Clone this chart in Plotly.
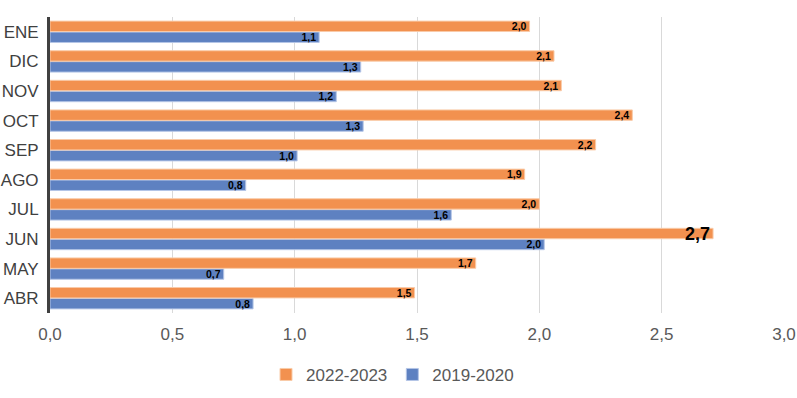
import plotly.graph_objects as go

months = ["ABR", "MAY", "JUN", "JUL", "AGO", "SEP", "OCT", "NOV", "DIC", "ENE"]
s2022 = [1.49, 1.74, 2.71, 2.00, 1.94, 2.23, 2.38, 2.09, 2.06, 1.96]
s2019 = [0.83, 0.71, 2.02, 1.64, 0.80, 1.01, 1.28, 1.17, 1.27, 1.10]
x_ticks = [0, 0.5, 1.0, 1.5, 2.0, 2.5, 3.0]

orange = "#F2914F"
blue = "#5E81C1"

size2022 = [18 if v == max(s2022) else 10.5 for v in s2022]

fig = go.Figure()
fig.add_trace(go.Bar(
    y=months, x=s2019, orientation="h", name="2019-2020",
    marker=dict(color=blue, line=dict(color="#B4C5E6", width=1)),
    texttemplate="<b>%{x:.1f}</b>", textposition="inside", insidetextanchor="end",
    textfont=dict(color="black", size=10.5, family="Arial"),
    constraintext="none", legendrank=2,
))
fig.add_trace(go.Bar(
    y=months, x=s2022, orientation="h", name="2022-2023",
    marker=dict(color=orange, line=dict(color="#F9CBA8", width=1)),
    texttemplate="<b>%{x:.1f}</b>", textposition="inside", insidetextanchor="end",
    textfont=dict(color="black", size=size2022, family="Arial"),
    constraintext="none", legendrank=1,
))

fig.update_layout(
    width=797, height=398,
    margin=dict(l=50, r=13, t=17, b=85),
    plot_bgcolor="white", paper_bgcolor="white",
    barmode="group", bargap=0.26, bargroupgap=0.05,
    separators=",.",
    font=dict(family="Arial", color="#595959"),
    showlegend=True,
    legend=dict(orientation="h", xref="container", x=0.4925, xanchor="center",
                yref="container", y=0.058, yanchor="middle",
                font=dict(size=17, color="#595959"), itemwidth=30),
    xaxis=dict(range=[0, 3.0], tickvals=x_ticks, tickformat=".1f", automargin=False,
               showgrid=True, gridcolor="#D9D9D9", gridwidth=1, zeroline=False,
               ticks="outside", ticklen=6, tickcolor="rgba(0,0,0,0)",
               tickfont=dict(size=17, color="#595959")),
    yaxis=dict(showline=True, linecolor="#404040", linewidth=3, automargin=False,
               ticks="outside", ticklen=5, tickcolor="rgba(0,0,0,0)",
               tickfont=dict(size=17, color="#404040"), showgrid=False),
)

# remove the default 8px page margin so the figure fills the window exactly
fig.write_html("out.html", config={"displayModeBar": False},
               post_script="document.body.style.margin='0';")
